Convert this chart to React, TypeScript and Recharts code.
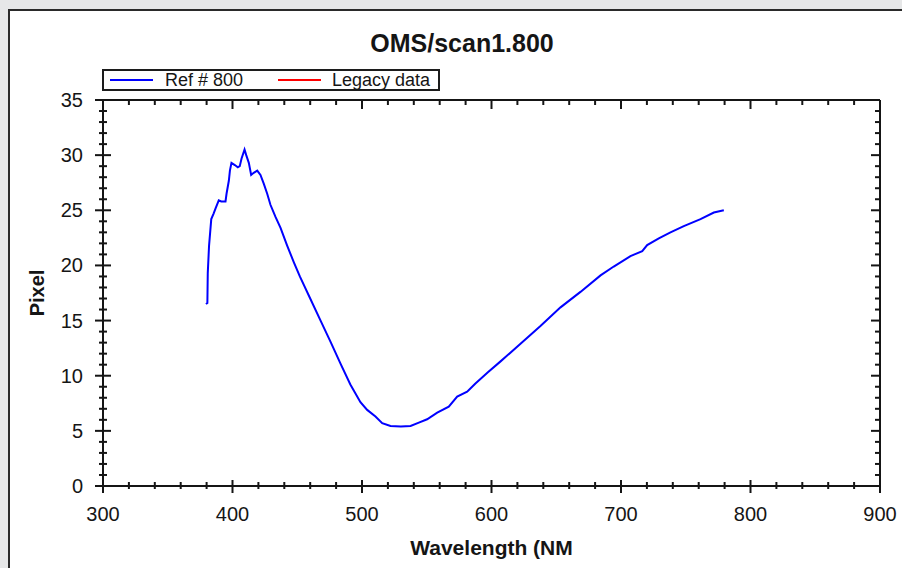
import React from 'react';
import { LineChart, Line, XAxis, YAxis, Legend } from 'recharts';

const wavelengths = [
  379.5, 380.6, 380.9, 381.9, 383.6, 385.4, 387, 389.4, 391.3, 394.6, 395.4, 397.2, 398, 399.2,
  401.8, 404.1, 405.6, 407, 409.3, 410.6, 412.6, 414.4, 416.4, 419.1, 421.6, 424.2, 426.8, 429.3,
  433.2, 437.1, 442.2, 447.3, 452, 460, 468, 476, 483.4, 491, 498.8, 504, 510.4, 515.6, 522, 530,
  537.5, 543.9, 550.3, 558.1, 567, 573.5, 581.2, 587.6, 597, 607, 622.4, 637.8, 653.3, 668.7,
  684.2, 694.4, 707.3, 716.4, 720.2, 729.2, 738.2, 748.5, 761.4, 771.7, 779.4,
];
const refValues = [
  16.5, 16.6, 19.3, 21.8, 24.2, 24.7, 25.2, 25.9, 25.8, 25.8, 26.5, 27.7, 28.6, 29.3,
  29.1, 28.9, 29.0, 29.7, 30.5, 30.0, 29.3, 28.2, 28.4, 28.6, 28.2, 27.4, 26.5, 25.5,
  24.4, 23.4, 21.8, 20.3, 19.0, 17.0, 15.0, 13.0, 11.1, 9.2, 7.6, 6.9, 6.3, 5.7, 5.44, 5.4,
  5.44, 5.74, 6.05, 6.65, 7.19, 8.1, 8.55, 9.3, 10.3, 11.3, 12.9, 14.5, 16.2, 17.6,
  19.1, 19.9, 20.85, 21.3, 21.85, 22.46, 23.0, 23.57, 24.2, 24.8, 25.0,
];

const seriesNames = ['Ref # 800', 'Legacy data'];

const xTicks = [
  300, 320, 340, 360, 380, 400, 420, 440, 460, 480, 500, 520, 540, 560, 580, 600,
  620, 640, 660, 680, 700, 720, 740, 760, 780, 800, 820, 840, 860, 880, 900,
];
const xMajor = [300, 400, 500, 600, 700, 800, 900];
const yTicks = [
  0, 1, 2, 3, 4, 5, 6, 7, 8, 9, 10, 11, 12, 13, 14, 15, 16, 17, 18, 19, 20,
  21, 22, 23, 24, 25, 26, 27, 28, 29, 30, 31, 32, 33, 34, 35,
];
const yMajor = [0, 5, 10, 15, 20, 25, 30, 35];

const FONT = '"Liberation Sans", Arial, sans-serif';
const INK = '#151515';

const data = wavelengths.map((w, i) => ({ wl: w, ref: refValues[i], legacy: null as number | null }));

const BottomTick = (props: any) => {
  const { x, y, payload } = props;
  const major = xMajor.includes(payload.value);
  return (
    <g>
      <line x1={x} x2={x} y1={y - (major ? 6 : 4)} y2={y + (major ? 7 : 3)} stroke={INK} strokeWidth={2} />
      {major && (
        <text x={x} y={y + 35} textAnchor="middle" fontSize={20} fontFamily={FONT} fill={INK}>
          {payload.value}
        </text>
      )}
    </g>
  );
};

const TopTick = (props: any) => {
  const { x, y, payload } = props;
  const major = xMajor.includes(payload.value);
  return <line x1={x} x2={x} y1={y} y2={y + (major ? 9 : 5)} stroke={INK} strokeWidth={2} />;
};

const LeftTick = (props: any) => {
  const { x, y, payload } = props;
  const major = yMajor.includes(payload.value);
  return (
    <g>
      <line x1={x - (major ? 8 : 4)} x2={x + (major ? 8 : 4)} y1={y} y2={y} stroke={INK} strokeWidth={2} />
      {major && (
        <text x={x - 20} y={y + 7} textAnchor="end" fontSize={20} fontFamily={FONT} fill={INK}>
          {payload.value}
        </text>
      )}
    </g>
  );
};

const RightTick = (props: any) => {
  const { x, y, payload } = props;
  const major = yMajor.includes(payload.value);
  return <line x1={x} x2={x - (major ? 9 : 5)} y1={y} y2={y} stroke={INK} strokeWidth={2} />;
};

const LegendBox = (props: any) => {
  const raw = (props.payload || []) as any[];
  const payload = seriesNames
    .map((n) => raw.find((p) => p.value === n))
    .filter(Boolean) as any[];
  const lineLeft = [6, 174];
  const textLeft = [61, 228];
  return (
    <div
      style={{
        position: 'relative',
        width: 338,
        height: 22,
        boxSizing: 'border-box',
        border: '2px solid #1c1c1c',
        background: '#fff',
        fontFamily: FONT,
      }}
    >
      {payload.map((p, i) => (
        <React.Fragment key={i}>
          <div
            style={{
              position: 'absolute',
              left: lineLeft[i],
              top: 8,
              width: 43,
              height: 2,
              background: p.color,
            }}
          />
          <div
            style={{
              position: 'absolute',
              left: textLeft[i],
              top: -1,
              fontSize: 18,
              lineHeight: '20px',
              color: INK,
              whiteSpace: 'nowrap',
            }}
          >
            {p.value}
          </div>
        </React.Fragment>
      ))}
    </div>
  );
};

export default function App() {
  const axisLine = { stroke: INK, strokeWidth: 2 };
  return (
    <div style={{ position: 'absolute', left: 0, top: 0, width: 902, height: 568, background: '#e6e7e8', overflow: 'hidden' }}>
      <div
        style={{
          position: 'absolute',
          left: 8,
          top: 9,
          width: 900,
          height: 570,
          background: '#fff',
          borderTop: '2px solid #2a2a2a',
          borderLeft: '2px solid #2a2a2a',
        }}
      />
      <div
        style={{
          position: 'absolute',
          left: 262,
          top: 31,
          width: 400,
          textAlign: 'center',
          fontFamily: FONT,
          fontWeight: 'bold',
          fontSize: 25,
          lineHeight: '25px',
          color: INK,
        }}
      >
        OMS/scan1.800
      </div>
      <div style={{ position: 'absolute', left: 0, top: 0 }}>
        <LineChart width={902} height={568} data={data} margin={{ top: 90, right: 12, bottom: 42, left: 43 }}>
          <XAxis
            xAxisId="b"
            dataKey="wl"
            type="number"
            domain={[300, 900]}
            ticks={xTicks}
            interval={0}
            allowDataOverflow
            height={40}
            tickLine={false}
            tickSize={0}
            tickMargin={0}
            axisLine={axisLine}
            tick={(p: any) => <BottomTick {...p} />}
            label={{
              value: 'Wavelength (NM',
              position: 'bottom',
              offset: 14,
              fill: INK,
              fontSize: 21,
              fontWeight: 'bold',
              fontFamily: FONT,
            }}
          />
          <XAxis
            xAxisId="t"
            orientation="top"
            dataKey="wl"
            type="number"
            domain={[300, 900]}
            ticks={xTicks}
            interval={0}
            allowDataOverflow
            height={10}
            tickLine={false}
            tickSize={0}
            tickMargin={0}
            axisLine={axisLine}
            tick={(p: any) => <TopTick {...p} />}
          />
          <YAxis
            yAxisId="l"
            type="number"
            domain={[0, 35]}
            ticks={yTicks}
            interval={0}
            allowDataOverflow
            width={60}
            tickLine={false}
            tickSize={0}
            tickMargin={0}
            axisLine={axisLine}
            tick={(p: any) => <LeftTick {...p} />}
            label={{
              value: 'Pixel',
              angle: -90,
              position: 'insideLeft',
              offset: -6,
              fill: INK,
              fontSize: 20,
              fontWeight: 'bold',
              fontFamily: FONT,
              style: { textAnchor: 'middle' },
            }}
          />
          <YAxis
            yAxisId="r"
            orientation="right"
            type="number"
            domain={[0, 35]}
            ticks={yTicks}
            interval={0}
            allowDataOverflow
            width={10}
            tickLine={false}
            tickSize={0}
            tickMargin={0}
            axisLine={axisLine}
            tick={(p: any) => <RightTick {...p} />}
          />
          <Legend
            layout="horizontal"
            verticalAlign="middle"
            align="center"
            content={(p: any) => <LegendBox {...p} />}
            wrapperStyle={{ position: 'absolute', left: 102, top: 69, width: 338, height: 22 }}
          />
          <Line
            xAxisId="b"
            yAxisId="l"
            dataKey="ref"
            name={seriesNames[0]}
            type="linear"
            stroke="#0000ff"
            strokeWidth={2}
            dot={false}
            activeDot={false}
            isAnimationActive={false}
          />
          <Line
            xAxisId="b"
            yAxisId="l"
            dataKey="legacy"
            name={seriesNames[1]}
            type="linear"
            stroke="#ff0000"
            strokeWidth={2}
            dot={false}
            activeDot={false}
            isAnimationActive={false}
          />
        </LineChart>
      </div>
    </div>
  );
}
